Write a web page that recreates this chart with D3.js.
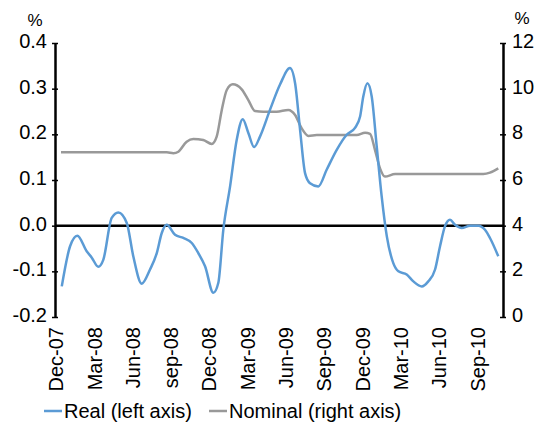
<!DOCTYPE html>
<html><head><meta charset="utf-8">
<script src="https://cdn.jsdelivr.net/npm/d3@7"></script>
<style>
body{margin:0;background:#fff}
text{font-family:"Liberation Sans",Arial,sans-serif;fill:#000}
</style>
</head><body>
<svg id="c" width="549" height="432"></svg>
<script>
// ---- data (months counted from Dec-07) ----
const tickMonths = [0,3,6,9,12,15,18,21,24,27,30,33];
const tickLabels = ["Dec-07","Mar-08","Jun-08","sep-08","Dec-08","Mar-09","Jun-09","Sep-09","Dec-09","Mar-10","Jun-10","Sep-10"];
const leftTicks = [-0.2,-0.1,0.0,0.1,0.2,0.3,0.4];
const rightTicks = [0,2,4,6,8,10,12];

const realMonths = [0.45,1.10,1.67,2.40,2.80,3.31,3.70,4.36,4.88,5.54,6.05,6.71,7.36,7.89,8.28,8.67,9.32,9.97,10.63,11.14,11.67,12.32,12.71,13.10,13.63,14.15,14.62,15.06,15.51,15.97,16.76,17.54,18.32,18.72,19.11,19.50,19.89,20.54,21.20,21.98,22.76,23.41,23.81,24.06,24.38,24.72,25.11,25.50,25.90,26.41,26.81,27.46,27.98,28.64,29.15,29.68,30.07,30.46,30.85,31.24,31.77,32.42,33.07,33.59,33.98,34.63];
const realValues = [-0.133,-0.045,-0.022,-0.056,-0.070,-0.090,-0.075,0.017,0.029,0.006,-0.067,-0.127,-0.096,-0.060,-0.016,0.002,-0.020,-0.027,-0.038,-0.060,-0.089,-0.147,-0.125,-0.009,0.086,0.188,0.233,0.203,0.172,0.195,0.254,0.309,0.345,0.312,0.210,0.115,0.093,0.086,0.123,0.166,0.199,0.214,0.239,0.283,0.312,0.283,0.174,0.064,-0.023,-0.082,-0.100,-0.107,-0.122,-0.133,-0.122,-0.096,-0.045,-0.001,0.013,0.002,-0.005,0.000,0.000,-0.009,-0.027,-0.067];

const nominalMonths = [0.39,2,4,6,8,8.67,9.19,9.58,10.23,10.75,11.53,12.19,12.58,12.98,13.37,13.84,14.54,15.06,15.58,16.23,17.28,18.19,18.72,19.24,19.76,20.42,22,23.55,24.2,24.59,24.98,25.37,25.76,26.55,28,30,32,33.46,33.98,34.63];
const nominalValues = [7.21,7.21,7.21,7.21,7.21,7.21,7.17,7.24,7.68,7.80,7.75,7.58,7.90,9.07,9.94,10.19,9.97,9.50,9.02,8.99,8.99,9.07,8.85,8.26,7.93,7.97,7.97,7.97,8.07,8.02,7.31,6.51,6.15,6.26,6.26,6.26,6.26,6.26,6.32,6.51];

// ---- layout ----
const svg = d3.select("#c");
const X0 = 55, X1 = 503, YT = 43, YB = 317;
const x = d3.scaleLinear().domain([-0.08, 35.0]).range([X0, X1]);
const yL = d3.scaleLinear().domain([-0.2, 0.4]).range([YB, YT]);
const yR = d3.scaleLinear().domain([0, 12]).range([YB, YT]);

const blue = "#5B9BD5", gray = "#999999";

// left axis
const gL = svg.append("g").attr("transform", `translate(${X0},0)`)
  .call(d3.axisLeft(yL).tickValues(leftTicks).tickFormat(d => d.toFixed(1)).tickSizeInner(3).tickSizeOuter(0).tickPadding(5));
gL.select(".domain").attr("stroke", "#000").attr("stroke-width", 2.5);
gL.selectAll(".tick line").attr("x1", -3).attr("x2", 3).attr("stroke-width", 1.5);
gL.selectAll(".tick text").attr("font-size", 20).attr("dy", "0.22em")
  .attr("font-family", '"Liberation Sans",Arial,sans-serif');

// right axis
const gR = svg.append("g").attr("transform", `translate(${X1},0)`)
  .call(d3.axisRight(yR).tickValues(rightTicks).tickSizeInner(3).tickSizeOuter(0).tickPadding(6));
gR.select(".domain").attr("stroke", "#000").attr("stroke-width", 2.5);
gR.selectAll(".tick line").attr("x1", -3).attr("x2", 3).attr("stroke-width", 1.5);
gR.selectAll(".tick text").attr("font-size", 20).attr("dy", "0.22em")
  .attr("font-family", '"Liberation Sans",Arial,sans-serif');

// % units
svg.append("text").attr("x", 35).attr("y", 26).attr("text-anchor", "middle").attr("font-size", 17).text("%");
svg.append("text").attr("x", 522).attr("y", 24).attr("text-anchor", "middle").attr("font-size", 17).text("%");

// zero line (category axis)
svg.append("line").attr("x1", X0).attr("x2", X1).attr("y1", yL(0)).attr("y2", yL(0))
  .attr("stroke", "#000").attr("stroke-width", 2.5);

// x labels (rotated)
svg.append("g").selectAll("text").data(tickMonths).join("text")
  .attr("transform", d => `translate(${x(d)},327) rotate(-90)`)
  .attr("text-anchor", "end").attr("dy", "0.36em").attr("font-size", 20)
  .text((d, i) => tickLabels[i]);

// lines
const nomData = nominalMonths.map((m, i) => [m, nominalValues[i]]);
const realData = realMonths.map((m, i) => [m, realValues[i]]);

svg.append("path").datum(nomData)
  .attr("fill", "none").attr("stroke", gray).attr("stroke-width", 2.5).attr("stroke-linejoin", "round")
  .attr("d", d3.line().x(d => x(d[0])).y(d => yR(d[1])).curve(d3.curveMonotoneX));

svg.append("path").datum(realData)
  .attr("fill", "none").attr("stroke", blue).attr("stroke-width", 2.5).attr("stroke-linejoin", "round")
  .attr("d", d3.line().x(d => x(d[0])).y(d => yL(d[1])).curve(d3.curveMonotoneX));

// legend
const leg = svg.append("g");
leg.append("line").attr("x1", 44).attr("x2", 62).attr("y1", 411).attr("y2", 411).attr("stroke", blue).attr("stroke-width", 2.5);
leg.append("text").attr("x", 64).attr("y", 418).attr("font-size", 20).text("Real (left axis)");
leg.append("line").attr("x1", 209).attr("x2", 227).attr("y1", 411).attr("y2", 411).attr("stroke", gray).attr("stroke-width", 2.5);
leg.append("text").attr("x", 229).attr("y", 418).attr("font-size", 20).text("Nominal (right axis)");
</script>
</body></html>
